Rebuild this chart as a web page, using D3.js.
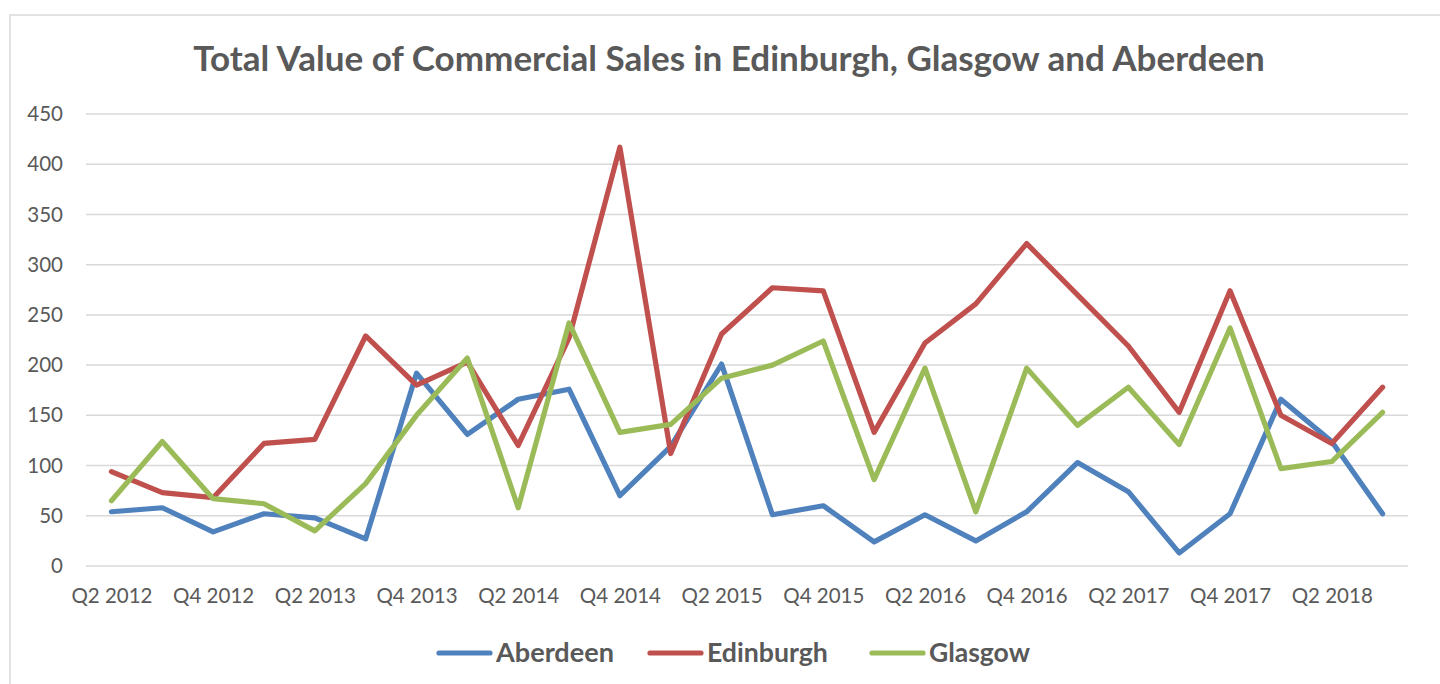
<!DOCTYPE html>
<html>
<head>
<meta charset="utf-8">
<script src="https://cdn.jsdelivr.net/npm/d3@7.9.0/dist/d3.min.js"></script>
<style>
  html, body { margin: 0; padding: 0; background: #fff; }
  svg { display: block; font-family: Lato, "Open Sans", sans-serif; }
</style>
</head>
<body>
<svg id="chart" width="1440" height="684"></svg>
<script>
const quarters = [
  'Q2 2012', 'Q3 2012', 'Q4 2012', 'Q1 2013', 'Q2 2013', 'Q3 2013', 'Q4 2013', 'Q1 2014',
  'Q2 2014', 'Q3 2014', 'Q4 2014', 'Q1 2015', 'Q2 2015', 'Q3 2015', 'Q4 2015', 'Q1 2016',
  'Q2 2016', 'Q3 2016', 'Q4 2016', 'Q1 2017', 'Q2 2017', 'Q3 2017', 'Q4 2017', 'Q1 2018',
  'Q2 2018', 'Q3 2018'
];
const aberdeen = [54, 58, 34, 52, 48, 27, 192, 131, 166, 176, 70, 119, 201, 51, 60, 24, 51, 25, 54, 103, 74, 13, 52, 166, 124, 52];
const edinburgh = [94, 73, 68, 122, 126, 229, 180, 203, 120, 227, 417, 112, 231, 277, 274, 133, 222, 261, 321, 270, 219, 153, 274, 150, 122, 178];
const glasgow = [65, 124, 67, 62, 35, 82, 150, 207, 58, 242, 133, 141, 187, 200, 224, 86, 197, 54, 197, 140, 178, 121, 237, 97, 104, 153];
const yTicks = [0, 50, 100, 150, 200, 250, 300, 350, 400, 450];
const title = 'Total Value of Commercial Sales in Edinburgh, Glasgow and Aberdeen';

const series = [
  { name: 'Aberdeen', values: aberdeen, color: '#4f81bd' },
  { name: 'Edinburgh', values: edinburgh, color: '#c0504d' },
  { name: 'Glasgow', values: glasgow, color: '#9bbb59' }
];

const textColor = '#595959';
const svg = d3.select('#chart');

// scale a text's font-size so it spans the given width
function fit(sel, width) {
  const w = sel.node().getComputedTextLength();
  const fs = parseFloat(sel.attr('font-size'));
  sel.attr('font-size', fs * width / w);
}

// chart frame
svg.append('rect')
  .attr('x', 10).attr('y', 15)
  .attr('width', 1440).attr('height', 700)
  .attr('fill', 'none')
  .attr('stroke', '#d9d9d9')
  .attr('stroke-width', 1.5);

const x = d3.scalePoint().domain(quarters).range([86, 1408]).padding(0.5);
const y = d3.scaleLinear().domain([0, 450]).range([566, 114]);

// gridlines
svg.append('g')
  .selectAll('line')
  .data(yTicks)
  .join('line')
  .attr('x1', 86).attr('x2', 1408)
  .attr('y1', d => y(d)).attr('y2', d => y(d))
  .attr('stroke', '#d9d9d9')
  .attr('stroke-width', 1.5);

// y axis labels
const yAxis = svg.append('g')
  .attr('transform', 'translate(63,0)')
  .call(d3.axisLeft(y).tickValues(yTicks).tickSize(0).tickPadding(0));
yAxis.select('.domain').remove();
yAxis.selectAll('text')
  .attr('font-size', 20.5)
  .attr('font-family', 'Lato, sans-serif')
  .attr('fill', textColor);

// x axis labels, every second quarter
const xAxis = svg.append('g')
  .attr('transform', 'translate(0,588)')
  .call(d3.axisBottom(x)
    .tickValues(quarters.filter((q, i) => i % 2 === 0))
    .tickSize(0).tickPadding(0));
xAxis.select('.domain').remove();
xAxis.selectAll('text')
  .attr('font-size', 20.5)
  .attr('font-family', 'Lato, sans-serif')
  .attr('fill', textColor);

// lines
const line = d3.line()
  .x((d, i) => x(quarters[i]))
  .y(d => y(d));

svg.append('g')
  .selectAll('path')
  .data(series)
  .join('path')
  .attr('d', d => line(d.values))
  .attr('fill', 'none')
  .attr('stroke', d => d.color)
  .attr('stroke-width', 5.2)
  .attr('stroke-linejoin', 'round')
  .attr('stroke-linecap', 'round');

// title
const t = svg.append('text')
  .attr('x', 729)
  .attr('y', 71)
  .attr('text-anchor', 'middle')
  .attr('font-size', 30)
  .attr('font-weight', 'bold')
  .attr('fill', textColor)
  .text(title);
fit(t, 1072);

// legend
const legendX = [437, 648, 870];
const legendW = [118, 121, 101];
const legend = svg.append('g')
  .selectAll('g')
  .data(series)
  .join('g')
  .attr('transform', (d, i) => `translate(${legendX[i]},653)`);

legend.append('line')
  .attr('x1', 2).attr('x2', 53)
  .attr('stroke', d => d.color)
  .attr('stroke-width', 5.2)
  .attr('stroke-linecap', 'round');

legend.append('text')
  .attr('x', 59)
  .attr('y', 9)
  .attr('font-size', 24)
  .attr('font-weight', 'bold')
  .attr('fill', textColor)
  .text(d => d.name)
  .each(function (d, i) { fit(d3.select(this), legendW[i]); });
</script>
</body>
</html>
